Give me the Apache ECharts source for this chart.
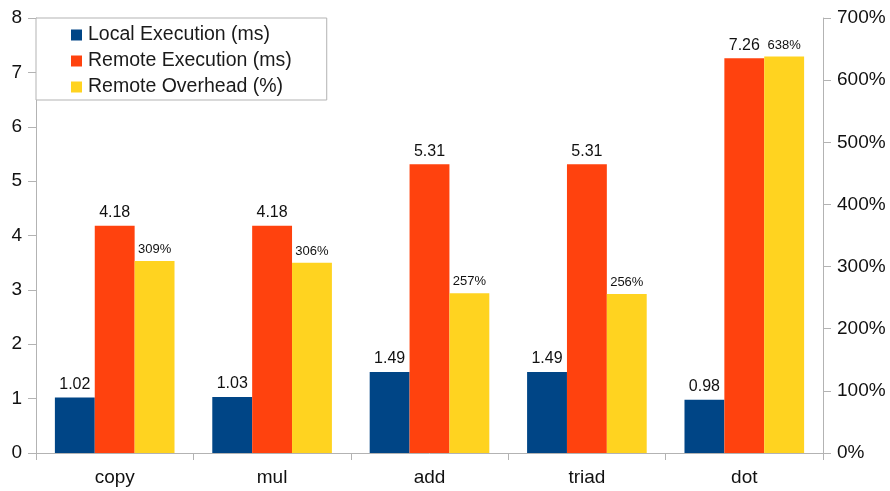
<!DOCTYPE html>
<html>
<head>
<meta charset="utf-8">
<script src="https://cdn.jsdelivr.net/npm/echarts@6/dist/echarts.min.js"></script>
<style>
  html, body { margin: 0; padding: 0; background: #fff; }
  #chart { width: 890px; height: 491px; }
</style>
</head>
<body>
<div id="chart"></div>
<script>
// Benchmark kernels
const categories = ['copy', 'mul', 'add', 'triad', 'dot'];
// Execution time in milliseconds
const localExec = [1.02, 1.03, 1.49, 1.49, 0.98];
const remoteExec = [4.18, 4.18, 5.31, 5.31, 7.26];
// Overhead of remote execution in percent
const remoteOverhead = [309, 306, 257, 256, 638];

const FONT = '"Liberation Sans", Arial, sans-serif';
const AXIS_GREY = '#b3b3b3';

const chart = echarts.init(document.getElementById('chart'), null, { renderer: 'canvas' });

const barLabel = (size, fmt) => ({
  show: true,
  position: 'top',
  distance: 5,
  fontFamily: FONT,
  fontSize: size,
  color: '#111',
  formatter: fmt
});

chart.setOption({
  animation: false,
  textStyle: { fontFamily: FONT },
  grid: { left: 36, right: 67, top: 18, bottom: 38, containLabel: false },
  legend: {
    orient: 'vertical',
    left: 36,
    top: 18,
    itemWidth: 11,
    itemHeight: 11,
    itemGap: 6,
    icon: 'rect',
    padding: [7, 35, 3, 35],
    backgroundColor: '#fff',
    borderColor: AXIS_GREY,
    borderWidth: 1,
    textStyle: { fontFamily: FONT, fontSize: 19.5, color: '#1a1a1a', padding: [0, 0, 0, 1] },
    data: ['Local Execution (ms)', 'Remote Execution (ms)', 'Remote Overhead (%)']
  },
  xAxis: {
    type: 'category',
    data: categories,
    axisLine: { lineStyle: { color: AXIS_GREY, width: 1 } },
    axisTick: { show: true, length: 7, lineStyle: { color: AXIS_GREY } },
    axisLabel: { fontFamily: FONT, fontSize: 19, color: '#111', margin: 15 }
  },
  yAxis: [
    {
      type: 'value',
      min: 0, max: 8, interval: 1,
      splitLine: { show: false },
      axisLine: { show: true, lineStyle: { color: AXIS_GREY } },
      axisTick: { show: true, length: 8, lineStyle: { color: AXIS_GREY } },
      axisLabel: { fontFamily: FONT, fontSize: 19, color: '#111', margin: 14 }
    },
    {
      type: 'value',
      min: 0, max: 700, interval: 100,
      position: 'right',
      splitLine: { show: false },
      axisLine: { show: true, lineStyle: { color: AXIS_GREY } },
      axisTick: { show: true, length: 8, lineStyle: { color: AXIS_GREY } },
      axisLabel: { fontFamily: FONT, fontSize: 19, color: '#111', margin: 14, formatter: '{value}%' }
    }
  ],
  series: [
    {
      name: 'Local Execution (ms)',
      type: 'bar',
      data: localExec,
      yAxisIndex: 0,
      barGap: '0%',
      barCategoryGap: '24%',
      itemStyle: { color: '#004586' },
      label: barLabel(16)
    },
    {
      name: 'Remote Execution (ms)',
      type: 'bar',
      data: remoteExec,
      yAxisIndex: 0,
      barGap: '0%',
      barCategoryGap: '24%',
      itemStyle: { color: '#ff420e' },
      label: barLabel(16)
    },
    {
      name: 'Remote Overhead (%)',
      type: 'bar',
      data: remoteOverhead,
      yAxisIndex: 1,
      barGap: '0%',
      barCategoryGap: '24%',
      itemStyle: { color: '#ffd320' },
      label: barLabel(13, '{c}%')
    }
  ]
});
</script>
</body>
</html>
